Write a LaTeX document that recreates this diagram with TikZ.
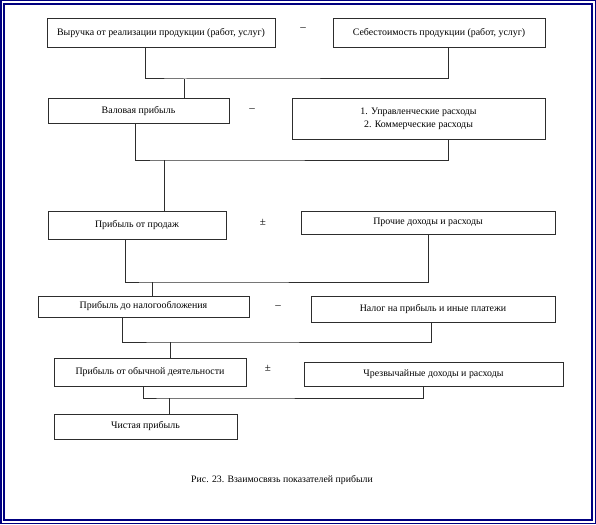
\documentclass[tikz,border=0pt]{standalone}
\usepackage{fontspec}
\setmainfont{Liberation Serif}
\definecolor{frameblue}{RGB}{0,0,128}
\definecolor{linegray}{RGB}{45,45,45}
\begin{document}
\begin{tikzpicture}[x=1pt,y=-1pt,
  box/.style={draw=linegray, line width=1pt, inner sep=0pt, align=center, font=\fontsize{9.9}{12.5}\selectfont},
  conn/.style={draw=linegray, line width=1pt},
  sign/.style={inner sep=0pt, font=\fontsize{11}{12}\selectfont},
  frame/.style={draw=frameblue, line width=1.5pt}]
\useasboundingbox (0,0) rectangle (596,524);
\draw[frame] (0.75,0.75) rectangle (595.25,523.25);
\draw[frame] (4,4) rectangle (592,520);

\node[box, minimum width=228pt, minimum height=29pt] (b1) at (161,33.5) {Выручка от реализации продукции (работ, услуг)};
\node[box, minimum width=212pt, minimum height=29pt] (b2) at (439,33.5) {Себестоимость продукции (работ, услуг)};
\node[box, minimum width=181pt, minimum height=24pt] (b3) at (138.5,111) {Валовая прибыль};
\node[box, minimum width=253pt, minimum height=40pt] (b4) at (418.5,119) {1. Управленческие расходы\\2. Коммерческие расходы};
\node[box, minimum width=178pt, minimum height=28pt] (b5) at (137,225) {Прибыль от продаж};
\node[box, minimum width=254pt, minimum height=23pt] (b6) at (428,222.5) {Прочие доходы и расходы};
\node[box, minimum width=211pt, minimum height=21pt] (b7) at (143.5,306.5) {Прибыль до налогообложения};
\node[box, minimum width=244pt, minimum height=26pt] (b8) at (433,309) {Налог на прибыль и иные платежи};
\node[box, minimum width=192pt, minimum height=28pt] (b9) at (150,372) {Прибыль от обычной деятельности};
\node[box, minimum width=259pt, minimum height=24pt] (b10) at (433.5,374) {Чрезвычайные доходы и расходы};
\node[box, minimum width=183pt, minimum height=25pt] (b11) at (145.5,426.5) {Чистая прибыль};

\node[sign] (s1) at (303,29) {–};
\node[sign] (s2) at (252,110) {–};
\node[sign] (s3) at (263,222) {±};
\node[sign] (s4) at (278,307) {–};
\node[sign] (s5) at (268,368) {±};

\coordinate (m1) at (184,79);
\coordinate (m2) at (164,160);
\coordinate (m3) at (152,282);
\coordinate (m4) at (170,342);
\coordinate (m5) at (169,398);

\draw[conn] ([xshift=-16pt]b1.south) |- (m1) -| ([xshift=9pt]b2.south);
\draw[conn] (m1) -- (b3.north -| m1);
\draw[conn] ([xshift=-3.5pt]b3.south) |- (m2) -| ([xshift=29.5pt]b4.south);
\draw[conn] (m2) -- (b5.north -| m2);
\draw[conn] ([xshift=-11.3pt]b5.south) |- (m3) -| (b6.south);
\draw[conn] (m3) -- (b7.north -| m3);
\draw[conn] ([xshift=-21.5pt]b7.south) |- (m4) -| ([xshift=-1.3pt]b8.south);
\draw[conn] (m4) -- (b9.north -| m4);
\draw[conn] ([xshift=-7pt]b9.south) |- (m5) -| ([xshift=-10.2pt]b10.south);
\draw[conn] (m5) -- (b11.north -| m5);

\node[font=\fontsize{9.8}{12}\selectfont, inner sep=0pt] (cap) at (282,480) {Рис. 23. Взаимосвязь показателей прибыли};
\end{tikzpicture}
\end{document}
